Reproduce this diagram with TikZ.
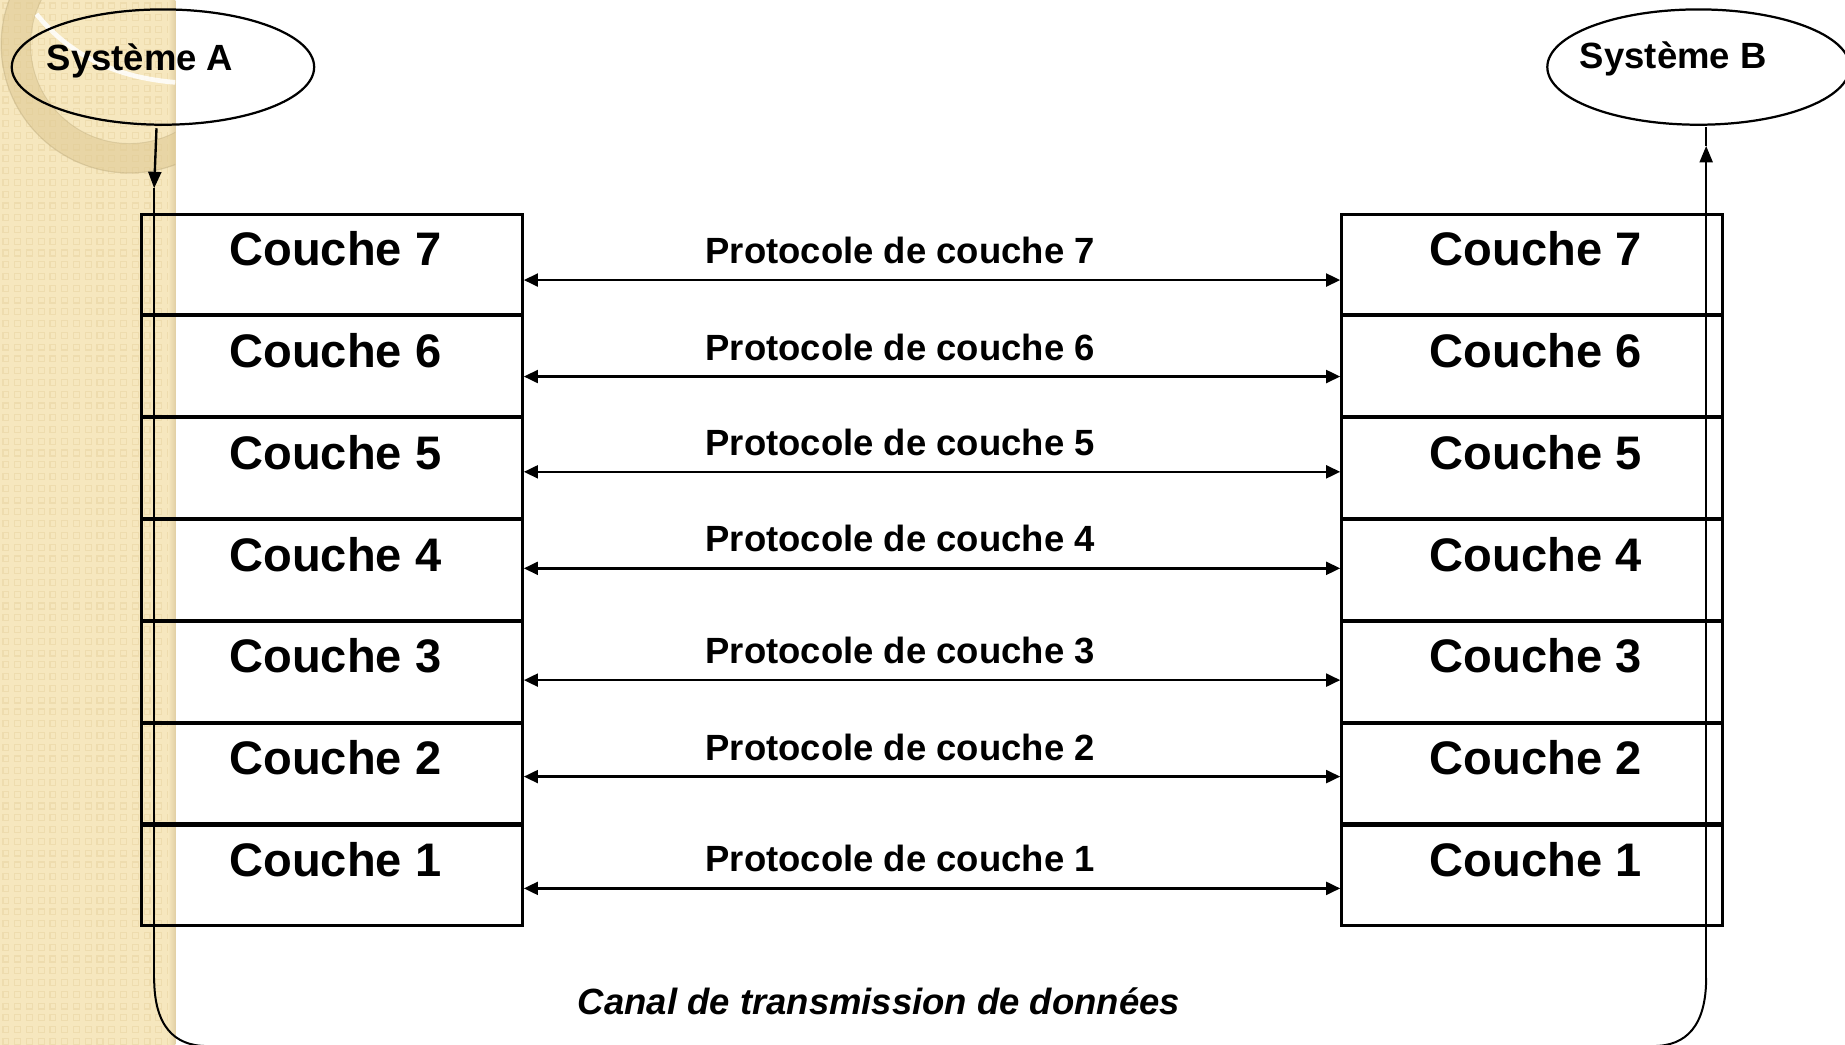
\documentclass[tikz,border=0pt]{standalone}
\usepackage{fontspec}
\setmainfont{Liberation Sans}
\usetikzlibrary{arrows.meta,shapes.geometric,calc}
\definecolor{beige}{RGB}{246,231,190}
\definecolor{beigedk}{RGB}{238,220,174}
\definecolor{ringc}{RGB}{222,200,145}
\definecolor{edgec}{RGB}{226,208,165}
\begin{document}
\begin{tikzpicture}[x=1pt,y=-1pt,
  layer/.style={draw, line width=2.2pt, minimum width=324pt, minimum height=85pt, inner sep=0pt, anchor=north west},
  lay/.style={font=\fontsize{40}{40}\selectfont\bfseries, anchor=base, inner sep=0pt},
  proto/.style={font=\fontsize{31}{31}\selectfont\bfseries, anchor=base, inner sep=0pt},
  pa/.style={line width=2pt, {Triangle[length=12pt,width=11pt]}-{Triangle[length=12pt,width=11pt]}},
  sysel/.style={draw, ellipse, line width=1.9pt, minimum width=257pt, minimum height=98pt, inner sep=0pt},
  systxt/.style={font=\fontsize{31}{31}\selectfont\bfseries, anchor=base, inner sep=0pt},
  link/.style={line width=2pt},
  tip/.style={line width=2pt, -{Triangle[length=14pt,width=11pt]}}
  ]
\clip (0,0) rectangle (1568,888);
\fill[white] (0,0) rectangle (1568,888);
% decorative strip
\fill[beige] (0,0) rectangle (149,888);
\foreach \x in {0,10,...,140}{
  \foreach \y in {0,10,...,880}{
    \draw[beigedk, line width=1pt] (\x+2.5,\y+2.5) rectangle +(5,5);
  }
}
\shade[left color=beige, right color=edgec] (143,0) rectangle (149,888);
\begin{scope}
  \clip (0,0) rectangle (149,888);
  \fill[ringc, opacity=0.55, even odd rule] (110,38) circle (109) (110,38) circle (84);
  \draw[ringc!80!black, opacity=0.35, line width=1pt] (110,38) circle (109);
  \draw[ringc!80!black, opacity=0.3, line width=0.8pt] (110,38) circle (84);
  \draw[white, opacity=0.85, line width=4pt] (31,12) .. controls (60,48) and (100,66) .. (149,70);
\end{scope}
% systems
\node[sysel] (A) at (138.5,57) {};
\node[systxt] (At) at (119,60) {Système A};
\node[sysel] (B) at (1443.5,57) {};
\node[systxt] (Bt) at (1422,58) {Système B};
% layers
\foreach \i/\t/\a in {7/181/238,6/267.6/320,5/354.2/401,4/440.8/483,3/527.4/578,2/614/660,1/700.6/755}{
  \node[layer] (L\i) at (119,\t) {};
  \node[layer] (R\i) at (1139,\t) {};
  \node[lay] (LT\i) at (285,\t+44.5) {Couche \i};
  \node[lay] (RT\i) at (1305,\t+44.5) {Couche \i};
  \coordinate (y\i) at (0,\a);
  \draw[pa] (L\i.east |- y\i) -- (R\i.west |- y\i);
  \node[proto] (P\i) at (765,\a-14) {Protocole de couche \i};
}
% data path
\coordinate (a0) at (133,109);
\coordinate (a1) at (131,160);
\coordinate (a2) at (131,831);
\coordinate (a3) at (176,889);
\draw[tip] (a0) -- (a1);
\draw[link] (a1) -- (a2);
\draw[line width=1.7pt] (a2) .. controls (131,872) and (148,889) .. (a3);
\coordinate (b0) at (1450,108);
\coordinate (b1) at (1450,124);
\coordinate (b2) at (1450,831);
\coordinate (b3) at (1405,889);
\draw[tip] (b2) -- (b1);
\draw[link] (b1) -- (b0);
\draw[line width=1.7pt] (b2) .. controls (1450,872) and (1433,889) .. (b3);
\node[font=\fontsize{31}{31}\selectfont\bfseries\itshape, anchor=base, inner sep=0pt] (canal) at (747,862) {Canal de transmission de données};
\end{tikzpicture}
\end{document}
